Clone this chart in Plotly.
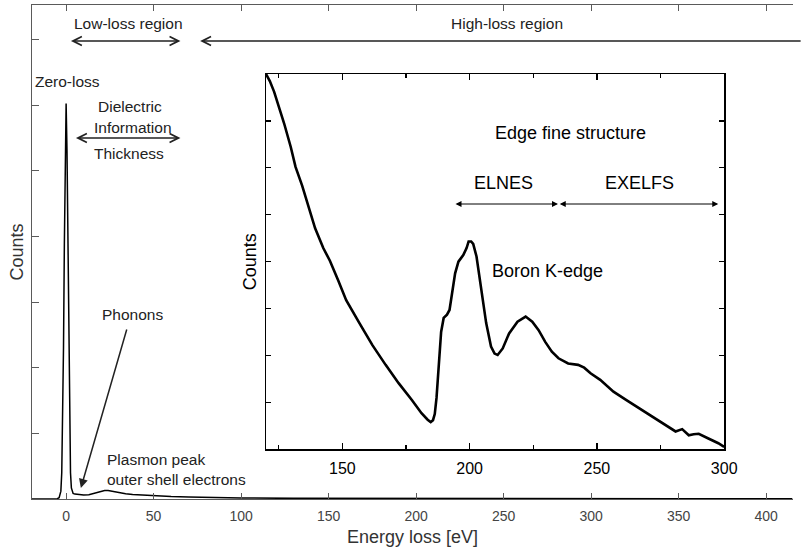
import plotly.graph_objects as go

# ---------------- data ----------------
main_energy = [-19.5, -8, -5, -4, -3, -2.5, -2, -1.5, -1, -0.5, 0, 0.5, 1, 1.5, 2, 2.5, 3, 3.5,
               4, 5, 7, 10, 13, 16, 19, 22, 24, 27, 30, 34, 38, 44, 50, 60, 70, 85, 100,
               130, 170, 220, 280, 350, 415]
main_counts = [0.0, 0.0, 0.005, 0.02, 0.12, 0.4, 1.1, 2.3, 3.9, 5.3, 6.03, 5.3, 3.8, 2.2, 1.0,
               0.4, 0.17, 0.1, 0.085, 0.075, 0.07, 0.06, 0.065, 0.085, 0.115, 0.13, 0.13, 0.115,
               0.095, 0.08, 0.07, 0.06, 0.05, 0.038, 0.03, 0.02, 0.015, 0.01, 0.007, 0.005,
               0.004, 0.003, 0.002]

inset_energy = [120, 121.5, 123.2, 125.1, 127.1, 129.7, 131.6, 134.2, 136.7, 139.3, 142.5, 145.1,
                148.3, 151.5, 156.7, 161.8, 167.0, 172.1, 177.3, 181.1, 183.5, 184.7, 185.6,
                186.3, 187.0, 187.5, 188.1, 188.8, 189.8, 191.1, 192.1, 193.0, 194.3, 195.6,
                197.5, 198.8, 199.6, 200.6, 201.4, 202.7, 204.0, 205.2, 206.5, 208.4, 209.8,
                211.0, 213.0, 215.5, 218.8, 222.0, 224.6, 227.1, 229.7, 232.3, 234.9, 238.7,
                242.6, 245.0, 247.5, 251.3, 256.5, 261.6, 266.8, 271.9, 277.1, 280.9, 283.5,
                286.1, 288.0, 290.0, 293.8, 297.7, 300.0]
inset_counts = [8.0, 7.85, 7.62, 7.30, 6.95, 6.45, 6.02, 5.62, 5.17, 4.71, 4.29, 4.02, 3.61, 3.18,
                2.69, 2.22, 1.80, 1.41, 1.05, 0.77, 0.63, 0.58, 0.62, 0.75, 1.1, 1.5, 2.0, 2.5,
                2.80, 2.87, 2.97, 3.33, 3.75, 4.00, 4.14, 4.29, 4.43, 4.43, 4.38, 4.11, 3.61,
                3.11, 2.69, 2.19, 2.04, 2.01, 2.15, 2.47, 2.72, 2.83, 2.72, 2.54, 2.29, 2.08,
                1.94, 1.83, 1.80, 1.74, 1.62, 1.48, 1.23, 1.05, 0.87, 0.70, 0.52, 0.38, 0.43,
                0.30, 0.32, 0.33, 0.23, 0.13, 0.05]

main_ticks = [0, 50, 100, 150, 200, 250, 300, 350, 400]
inset_ticks = [150, 200, 250, 300]
inset_minor_ticks = [125, 175, 225, 275]

# ---------------- layout helpers ----------------
W, H = 806, 552
L, R, T, B = 32, 0, 5, 53
PW, PH = W - L - R, H - T - B
FONT = "Liberation Sans, Arial, sans-serif"


def px(xp):
    return (xp - L) / PW


def py(yp):
    return (H - B - yp) / PH


fig = go.Figure()
fig.add_trace(go.Scatter(x=main_energy, y=main_counts, mode="lines",
                         line=dict(color="black", width=1.5), xaxis="x", yaxis="y",
                         showlegend=False, hoverinfo="skip"))
fig.add_trace(go.Scatter(x=inset_energy, y=inset_counts, mode="lines",
                         line=dict(color="black", width=2.6), xaxis="x2", yaxis="y2",
                         showlegend=False, hoverinfo="skip"))

axis_gray = "#5a5a5a"
fig.update_layout(
    width=W, height=H,
    margin=dict(l=L, r=R, t=T, b=B),
    paper_bgcolor="white", plot_bgcolor="white",
    font=dict(family=FONT, color="#222"),
    xaxis=dict(domain=[0, 1], range=[-19.5, 415.4], tickvals=main_ticks,
               ticks="inside", ticklen=6, tickcolor=axis_gray, tickwidth=1,
               showline=True, linecolor=axis_gray, linewidth=1.3, mirror="ticks",
               showgrid=False, zeroline=False, automargin=False,
               tickfont=dict(size=14, color="#444"), ticklabelstandoff=4,
               title=dict(text="Energy loss [eV]", font=dict(size=18, color="#333"), standoff=7)),
    yaxis=dict(domain=[0, 1], range=[0, 7.53], dtick=1, tick0=0,
               ticks="inside", ticklen=7, tickcolor=axis_gray, tickwidth=1,
               showline=True, linecolor=axis_gray, linewidth=1.3, mirror=False,
               showgrid=False, zeroline=False, showticklabels=False, automargin=False,
               title=dict(text="Counts", font=dict(size=18, color="#333"), standoff=2)),
    xaxis2=dict(domain=[px(270), px(736)], anchor="y2", range=[120, 300],
                tickvals=inset_ticks, ticks="inside", ticklen=6, tickcolor="black",
                tickwidth=1.3,
                minor=dict(tickvals=inset_minor_ticks, ticks="inside", ticklen=4,
                           tickcolor="black", tickwidth=1.2),
                showline=True, linecolor="black", linewidth=1.5, mirror="ticks",
                showgrid=False, zeroline=False, ticklabelstandoff=4,
                tickfont=dict(size=16, color="black")),
    yaxis2=dict(domain=[py(449.3), py(74)], anchor="x2", range=[0, 8], dtick=1, tick0=0,
                ticks="inside", ticklen=5, tickcolor="black", tickwidth=1.3,
                showline=True, linecolor="black", linewidth=1.5, mirror="ticks",
                showgrid=False, zeroline=False, showticklabels=False,
                title=dict(text="Counts", font=dict(size=18, color="black"), standoff=3)),
)

annotations = []


def text(t, xp, yp, size=15, xanchor="center", color="#222"):
    annotations.append(dict(text=t, x=px(xp), y=py(yp), xref="paper", yref="paper",
                            xanchor=xanchor, yanchor="middle", showarrow=False,
                            font=dict(size=size, color=color, family=FONT)))


def arrow(tip, tail, head=5, both=False, width=1.5, size=1.0, color="#222"):
    annotations.append(dict(text="", x=px(tip[0]), y=py(tip[1]), xref="paper", yref="paper",
                            ax=tail[0] - tip[0], ay=tail[1] - tip[1], axref="pixel", ayref="pixel",
                            showarrow=True, arrowhead=head, startarrowhead=head,
                            arrowside="end+start" if both else "end",
                            arrowwidth=width, arrowsize=size, startarrowsize=size,
                            arrowcolor=color, standoff=0, startstandoff=0))


text("Low-loss region", 130, 23, size=15.5)
text("High-loss region", 515, 23, size=15.5)
text("Zero-loss", 68.5, 81, size=15.5)
text("Dielectric", 132, 107, size=15.5)
text("Information", 134.5, 127, size=15.5)
text("Thickness", 130.5, 153, size=15.5)
text("Phonons", 134, 314, size=15.5)
text("Plasmon peak", 106, 459, size=15.5, xanchor="left")
text("outer shell electrons", 106, 479, size=15.5, xanchor="left")
text("Edge fine structure", 580, 133, size=18, color="black")
text("ELNES", 512, 183, size=18, color="black")
text("EXELFS", 650, 183, size=18, color="black")
text("Boron K-edge", 498, 271, size=18, xanchor="left", color="black")

arrow((183, 41), (72, 41), head=5, both=True, width=1.6, size=1.1)
arrow((203, 41), (805, 41), head=5, width=1.6, size=1.1)
arrow((183, 138), (77, 138), head=5, both=True, width=1.6, size=1.1)
arrow((81.7, 488), (128, 328), head=2, width=1.5, size=1.2)
arrow((567, 204), (463, 204), head=2, both=True, width=1.0, size=1.2, color="black")
arrow((730, 204), (570, 204), head=2, both=True, width=1.0, size=1.2, color="black")

fig.update_layout(annotations=annotations)
fig.write_html(
    "out.html",
    config={"displayModeBar": False, "staticPlot": True},
    post_script=("document.documentElement.style.margin='0px';"
                 "document.documentElement.style.overflow='hidden';"
                 "document.body.style.margin='0px';document.body.style.overflow='hidden';"),
)
